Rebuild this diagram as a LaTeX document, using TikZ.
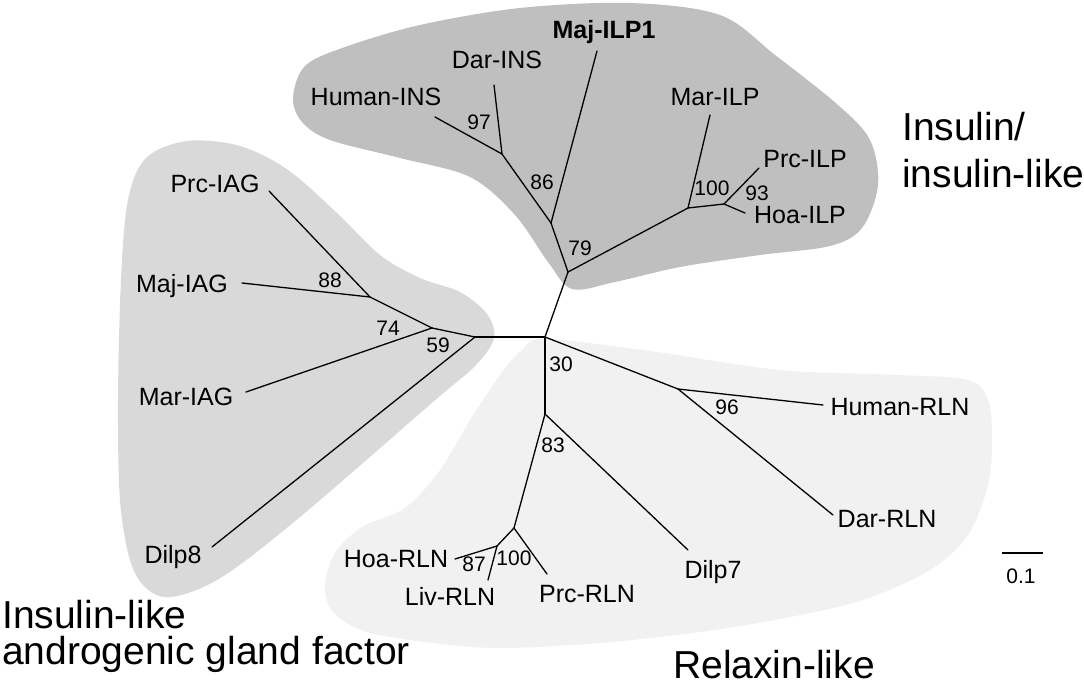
\documentclass[tikz,border=0pt]{standalone}
\usepackage{fontspec}
\setmainfont{Liberation Sans}
\usepackage{xcolor}
\usepackage{tikz}
\usetikzlibrary{positioning}
\definecolor{insgray}{gray}{0.75}
\definecolor{iaggray}{gray}{0.85}
\definecolor{rlngray}{gray}{0.945}

\begin{document}
\begin{tikzpicture}[x=1pt, y=-1pt,
    branch/.style={line width=1.3pt, line cap=round},
    taxon/.style={font=\fontsize{25}{30}\selectfont, anchor=base, inner sep=0pt},
    boot/.style={font=\fontsize{21}{25}\selectfont, inner sep=0pt},
    group/.style={font=\fontsize{39}{47}\selectfont, anchor=base west, inner sep=0pt}]
  \useasboundingbox (0,0) rectangle (1084,688);
  % clade shading
  \fill[rlngray] plot[smooth cycle, tension=0.55] coordinates {(545,339) (650,351) (780,370) (900,375) (968,380) (988,400) (992,440) (988,485) (968,535) (930,570) (863,600) (780,619) (700,632) (600,643) (500,648) (433,643) (367,632) (333,612) (325,585) (335,553) (362,527) (405,508) (440,470) (470,420) (500,375) (522,350)};
  \fill[iaggray] plot[smooth cycle, tension=0.55] coordinates {(187,141) (240,146) (288,170) (337,213) (380,255) (420,278) (460,292) (487,314) (494,338) (476,365) (433,402) (300,517) (222,577) (172,597) (146,588) (130,560) (120,500) (118,400) (121,280) (128,200) (146,158)};
  \fill[insgray] plot[smooth cycle, tension=0.55] coordinates {(293,98) (305,66) (345,47) (420,25) (520,8) (630,3) (720,15) (775,55) (838,105) (870,140) (878,185) (862,228) (830,246) (760,255) (680,267) (615,282) (572,289) (548,262) (515,215) (470,177) (400,158) (330,140) (302,122)};
  % tree
  \coordinate (root) at (545,337);
  \coordinate (nA) at (475,337);
  \coordinate (nB) at (432,328);
  \coordinate (nC) at (370,297);
  \coordinate (nD) at (568,272);
  \coordinate (nE) at (551,223);
  \coordinate (nG) at (502,154);
  \coordinate (nF) at (688,208);
  \coordinate (nH) at (724,204);
  \coordinate (nI) at (545,414);
  \coordinate (nJ) at (678,389);
  \coordinate (nK) at (514,528);
  \coordinate (nL) at (497,546);
  \coordinate (tDilpE) at (212,547);
  \coordinate (tMarIAG) at (246,392);
  \coordinate (tMajIAG) at (242,283);
  \coordinate (tPrcIAG) at (269,191);
  \coordinate (tMajILP) at (597,51);
  \coordinate (tHumINS) at (435,117);
  \coordinate (tDarINS) at (494,85);
  \coordinate (tMarILP) at (710,115);
  \coordinate (tPrcILP) at (759,168);
  \coordinate (tHoaILP) at (745,213);
  \coordinate (tHumRLN) at (823,405);
  \coordinate (tDarRLN) at (833,515);
  \coordinate (tDilpS) at (688,550);
  \coordinate (tPrcRLN) at (547,574);
  \coordinate (tHoaRLN) at (455,559);
  \coordinate (tLivRLN) at (488,580);
  \foreach \a/\b in {root/nA, nA/nB, nB/nC, nA/tDilpE, nB/tMarIAG, nC/tMajIAG, nC/tPrcIAG,
      root/nD, nD/nE, nE/nG, nE/tMajILP, nG/tHumINS, nG/tDarINS, nD/nF, nF/tMarILP, nF/nH, nH/tPrcILP, nH/tHoaILP,
      root/nI, root/nJ, nJ/tHumRLN, nJ/tDarRLN, nI/tDilpS, nI/nK, nK/tPrcRLN, nK/nL, nL/tHoaRLN, nL/tLivRLN}
    \draw[branch] (\a) -- (\b);
  % taxa
  \foreach \nm/\px/\py/\txt in {humins/376/105/Human-INS, darins/497/68/Dar-INS, marilp/715/105/Mar-ILP,
      prcilp/805/167/Prc-ILP, hoailp/800/223/Hoa-ILP, prciag/215/192/Prc-IAG, majiag/182/292/Maj-IAG,
      mariag/186/405/Mar-IAG, dilpe/173/563/Dilp8, humrln/900/415/Human-RLN, darrln/887/527/Dar-RLN,
      dilps/713/578/Dilp7, prcrln/587/602/Prc-RLN, hoarln/396/567/Hoa-RLN, livrln/450/605/Liv-RLN}
    \node[taxon] (\nm) at (\px,\py) {\txt};
  \node[taxon, font=\fontsize{25}{30}\selectfont\bfseries] (majilp) at (604,38) {Maj-ILP1};
  % bootstrap values
  \foreach \nm/\px/\py/\val in {bA/479/122/97, bB/542/182/86, bC/580/248/79, bD/712/188/100, bE/757/193/93,
      bF/330/280/88, bG/388/328/74, bH/438/345/59, bI/561/364/30, bJ/727/407/96, bK/553/445/83,
      bL/474/564/87, bM/514/558/100}
    \node[boot] (\nm) at (\px,\py) {\val};
  % scale bar
  \coordinate (sbL) at (1002,553);
  \coordinate (sbR) at (1043,553);
  \draw[line width=2.6pt] (sbL) -- (sbR);
  \node[boot] (sblab) at (1021,576) {0.1};
  % clade names
  \node[group] (insA) at (902,140) {Insulin/};
  \node[group] (insB) at (902,187) {insulin-like};
  \node[group] (iagA) at (2,628) {Insulin-like};
  \node[group] (iagB) at (2,664) {androgenic gland factor};
  \node[group] (rln) at (673,678) {Relaxin-like};
\end{tikzpicture}
\end{document}
